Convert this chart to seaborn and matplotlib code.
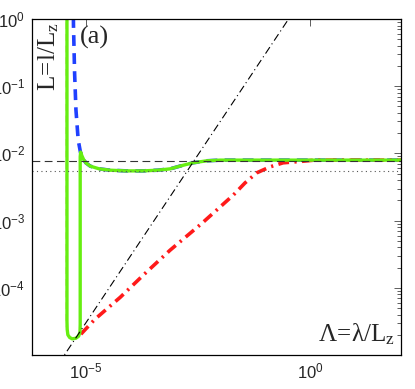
import matplotlib
matplotlib.use("Agg")
import matplotlib.pyplot as plt
import matplotlib.ticker as mticker
import seaborn as sns
import numpy as np
import pandas as pd

# values, as log10(Lambda), log10(L)
green_lx = [-5.42, -5.42, -5.415, -5.40, -5.36, -5.30, -5.22, -5.16, -5.13, -5.125,
            -5.125, -5.115, -5.09, -5.05, -5.00, -4.90, -4.70, -4.46, -4.10, -3.72,
            -3.40, -3.12, -2.85, -2.61, -2.30, -2.00, -1.50, 2.10]
green_ly = [0.30, -4.50, -4.62, -4.70, -4.74, -4.76, -4.75, -4.72, -4.66, -4.55,
            -2.05, -1.98, -2.03, -2.09, -2.14, -2.19, -2.23, -2.25, -2.26, -2.26,
            -2.25, -2.23, -2.18, -2.14, -2.11, -2.10, -2.10, -2.10]

blue_lx = [-5.28, -5.275, -5.25, -5.22, -5.17, -5.12, -5.09, -5.05, -5.00, -4.90,
           -4.70, -4.46, -4.10, -3.72, -3.40, -3.12, -2.85, -2.61, -2.30, -2.00, 2.10]
blue_ly = [0.30, -0.09, -0.80, -1.35, -1.80, -1.98, -2.03, -2.09, -2.14, -2.19,
           -2.23, -2.25, -2.26, -2.26, -2.25, -2.23, -2.18, -2.14, -2.11, -2.10, -2.10]

red_lx = [-5.11, -4.80, -4.23, -3.70, -3.12, -2.41, -2.01, -1.71, -1.45, -1.19,
          -0.89, -0.60, -0.22, 0.10, 2.10]
red_ly = [-4.69, -4.47, -4.14, -3.80, -3.44, -3.04, -2.80, -2.62, -2.44, -2.29,
          -2.20, -2.14, -2.12, -2.10, -2.10]

orange_lx = [-5.43, -5.43, -5.41, -5.37]
orange_ly = [0.30, -4.55, -4.68, -4.74]

# reference lines
ref_lam = [1e-7, 1e1]
ref_L = [3e-7, 3e1]
L_dashed = 7.8e-3
L_dotted = 5.4e-3

xlim = (10 ** -6.2, 10 ** 2.03)
ylim = (1e-5, 1e0)
xticks = [1e-5, 1e0]
yticks = [1e-4, 1e-3, 1e-2, 1e-1, 1e0]

sns.set_style("white")
plt.rcParams["font.family"] = ["Liberation Sans", "DejaVu Sans"]
plt.rcParams["mathtext.fontset"] = "custom"
plt.rcParams["mathtext.rm"] = "Liberation Serif"
plt.rcParams["mathtext.it"] = "Liberation Serif:italic"

fig = plt.figure(figsize=(4.15, 3.89), dpi=100)
ax = fig.add_axes([32 / 415, 1 - 355 / 389, 369 / 415, 336 / 389])

def frame(lx, ly):
    return pd.DataFrame({"lam": 10 ** np.array(lx), "L": 10 ** np.array(ly)})

sns.lineplot(data=frame(orange_lx, orange_ly), x="lam", y="L", ax=ax, sort=False,
             estimator=None, color="#d88c6c", lw=1.2, linestyle=(0, (4, 3)))
sns.lineplot(data=frame(blue_lx, blue_ly), x="lam", y="L", ax=ax, sort=False,
             estimator=None, color="#2040ff", lw=2.6, linestyle=(0, (3, 2)))
sns.lineplot(data=frame(red_lx, red_ly), x="lam", y="L", ax=ax, sort=False,
             estimator=None, color="#ff1a1a", lw=2.6, linestyle=(0, (3, 1.5, 0.6, 1.5)))
sns.lineplot(data=frame(green_lx, green_ly), x="lam", y="L", ax=ax, sort=False,
             estimator=None, color="#66ee11", lw=2.4)
sns.lineplot(x=ref_lam, y=ref_L, ax=ax, color="black", lw=0.8,
             linestyle=(0, (7, 3, 1, 3)))
ax.axhline(L_dashed, color="#333333", lw=0.8, linestyle=(0, (7, 4)))
ax.axhline(L_dotted, color="#555555", lw=0.8, linestyle=(0, (1, 3)))

ax.set_xscale("log")
ax.set_yscale("log")
ax.set_xlim(*xlim)
ax.set_ylim(*ylim)
ax.set_xticks(xticks)
ax.xaxis.set_minor_locator(mticker.NullLocator())
ax.set_yticks(yticks)
ax.yaxis.set_minor_locator(mticker.LogLocator(base=10, subs=np.arange(2, 10), numticks=20))
ax.yaxis.set_minor_formatter(mticker.NullFormatter())
ax.set_xlabel("")
ax.set_ylabel("")
ax.tick_params(which="both", direction="in", top=True, right=True, labelsize=12,
               width=0.6, color="#444444")
ax.tick_params(which="major", length=5, pad=5)
ax.tick_params(which="minor", length=3)
for s in ax.spines.values():
    s.set_linewidth(0.9)
    s.set_color("black")

ax.text(0.012, 0.99, r"$\mathrm{L\!=\!l/L_z}$", transform=ax.transAxes, rotation=90,
        ha="left", va="top", fontsize=18)
ax.text(0.13, 0.98, "(a)", transform=ax.transAxes, ha="left", va="top",
        fontsize=19, family="Liberation Serif")
ax.text(0.985, 0.025, r"$\mathrm{\Lambda\!=\!\lambda/L_z}$", transform=ax.transAxes,
        ha="right", va="bottom", fontsize=18)

fig.savefig("out.png", dpi=100)
